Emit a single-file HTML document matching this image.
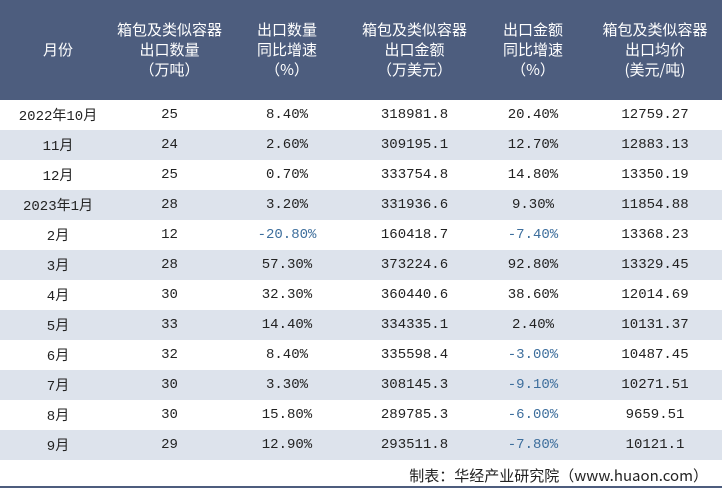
<!DOCTYPE html>
<html><head><meta charset="utf-8"><style>
body{margin:0;width:722px;height:492px;background:#fff;font-family:"Liberation Mono","Noto Sans CJK SC",monospace;overflow:hidden;position:relative}
table{border-collapse:collapse;position:absolute;left:0;top:0;width:722px;table-layout:fixed}
th{background:#4d5d7e;color:#fff;font-weight:normal;font-size:15px;line-height:20px;height:100px;padding:0;font-family:"Noto Sans CJK SC",sans-serif}
td{height:30px;padding:0;text-align:center;font-size:13.4px;color:#222}
td.c{font-family:"Liberation Mono","Noto Sans CJK SC",monospace;font-size:14px}
tr:nth-child(even) td{background:#dde3ec}
.neg{color:#3d6e9c}
#foot{position:absolute;right:14px;top:465px;font-size:15px;font-family:"Noto Sans CJK SC",sans-serif;color:#222}
#line{position:absolute;left:0;top:486px;width:722px;height:2px;background:#4d5d7e}
</style></head><body>
<table>
<colgroup><col style="width:116px"><col style="width:107px"><col style="width:128px"><col style="width:127px"><col style="width:110px"><col style="width:134px"></colgroup>
<thead><tr>
<th>月份</th>
<th>箱包及类似容器<br>出口数量<br>（万吨）</th>
<th>出口数量<br>同比增速<br>（%）</th>
<th>箱包及类似容器<br>出口金额<br>（万美元）</th>
<th>出口金额<br>同比增速<br>（%）</th>
<th>箱包及类似容器<br>出口均价<br>(美元/吨)</th>
</tr></thead>
<tbody id="tb"></tbody></table>
<div id="foot">制表：华经产业研究院（www.huaon.com）</div>
<div id="line"></div>
<script>
const months=["2022年10月","11月","12月","2023年1月","2月","3月","4月","5月","6月","7月","8月","9月"];
const qty=["25","24","25","28","12","28","30","33","32","30","30","29"];
const qtyGrowth=["8.40%","2.60%","0.70%","3.20%","-20.80%","57.30%","32.30%","14.40%","8.40%","3.30%","15.80%","12.90%"];
const amount=["318981.8","309195.1","333754.8","331936.6","160418.7","373224.6","360440.6","334335.1","335598.4","308145.3","289785.3","293511.8"];
const amtGrowth=["20.40%","12.70%","14.80%","9.30%","-7.40%","92.80%","38.60%","2.40%","-3.00%","-9.10%","-6.00%","-7.80%"];
const price=["12759.27","12883.13","13350.19","11854.88","13368.23","13329.45","12014.69","10131.37","10487.45","10271.51","9659.51","10121.1"];
const tb=document.getElementById('tb');
const names=['month','quantity','quantity-growth','amount','amount-growth','price'];
months.forEach((m,i)=>{
 const tr=document.createElement('tr');
 
 
 [m,qty[i],qtyGrowth[i],amount[i],amtGrowth[i],price[i]].forEach((v,j)=>{
  const td=document.createElement('td');
  
  
  td.className='c'+(String(v).startsWith('-')?' neg':'');
  td.textContent=v;
  tr.appendChild(td);
 });
 tb.appendChild(tr);
});
</script>
</body></html>
